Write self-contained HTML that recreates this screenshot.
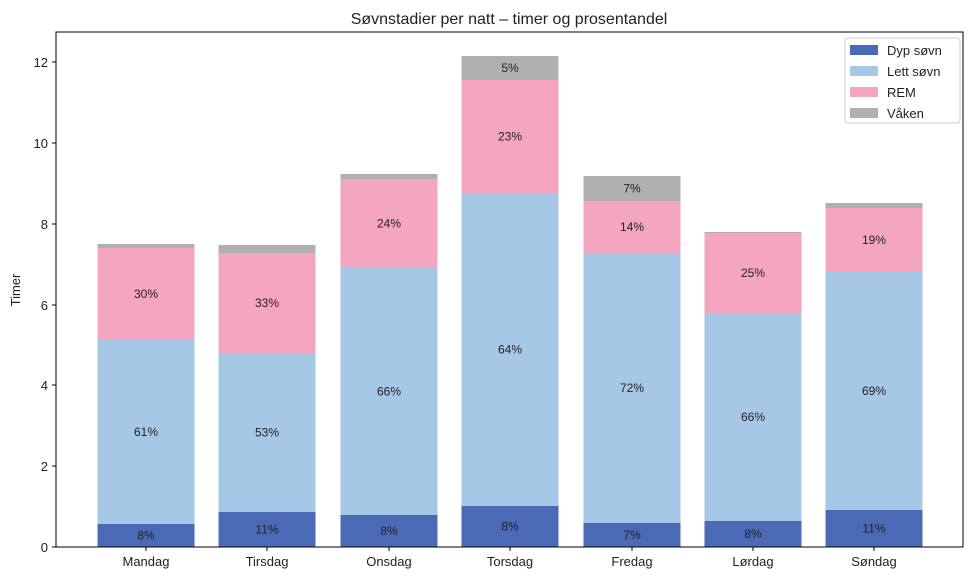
<!DOCTYPE html>
<html><head><meta charset="utf-8"><style>
body{margin:0;background:#fff}
text{font-family:"Liberation Sans","DejaVu Sans",sans-serif;fill:#222}
</style></head><body>
<svg width="973" height="580" viewBox="0 0 973 580" xmlns="http://www.w3.org/2000/svg">
<rect width="973" height="580" fill="#fff"/>
<text x="509" y="24" font-size="16" text-anchor="middle">Søvnstadier per natt – timer og prosentandel</text>
<g id="bars"></g>
<rect x="56" y="32" width="907" height="515" fill="none" stroke="#000" stroke-width="1"/>
<g font-size="13">
<g stroke="#000"><line x1="52" x2="56" y1="547" y2="547"/><line x1="52" x2="56" y1="466" y2="466"/><line x1="52" x2="56" y1="385" y2="385"/><line x1="52" x2="56" y1="305" y2="305"/><line x1="52" x2="56" y1="224" y2="224"/><line x1="52" x2="56" y1="143" y2="143"/><line x1="52" x2="56" y1="62" y2="62"/></g>
<text x="48" y="552" text-anchor="end">0</text><text x="48" y="471" text-anchor="end">2</text><text x="48" y="390" text-anchor="end">4</text><text x="48" y="310" text-anchor="end">6</text><text x="48" y="229" text-anchor="end">8</text><text x="48" y="148" text-anchor="end">10</text><text x="48" y="67" text-anchor="end">12</text>
<text transform="translate(20,290) rotate(-90)" text-anchor="middle">Timer</text>
</g>
<g id="xl" font-size="13" text-anchor="middle"></g>
<g>
<rect x="845" y="38" width="115" height="85" fill="#fff" stroke="#ccc" rx="3"/>
<rect x="850" y="45" width="28" height="10" fill="#4a6ab6"/><text x="887" y="55" font-size="13">Dyp søvn</text>
<rect x="850" y="66" width="28" height="10" fill="#a7c7e7"/><text x="887" y="76" font-size="13">Lett søvn</text>
<rect x="850" y="87" width="28" height="10" fill="#f4a6c0"/><text x="887" y="97" font-size="13">REM</text>
<rect x="850" y="108" width="28" height="10" fill="#b0b0b0"/><text x="887" y="118" font-size="13">Våken</text>
</g>
<script>
var d=[["Mandag",146,524,340,248,244,["8%","61%","30%",""]],
["Tirsdag",267,512,353,253,245,["11%","53%","33%",""]],
["Onsdag",389,515,268,179,174,["8%","66%","24%",""]],
["Torsdag",510,506,193,80,56,["8%","64%","23%","5%"]],
["Fredag",632,523,253,201,176,["7%","72%","14%","7%"]],
["Lørdag",753,521,313,233,232,["8%","66%","25%",""]],
["Søndag",874,510,272,208,203,["11%","69%","19%",""]]];
var c=["#4a6ab6","#a7c7e7","#f4a6c0","#b0b0b0"],ns="http://www.w3.org/2000/svg";
var g=document.getElementById("bars"),xl=document.getElementById("xl");
d.forEach(function(b){var ys=[547,b[2],b[3],b[4],b[5]];
for(var i=0;i<4;i++){var r=document.createElementNS(ns,"rect");r.setAttribute("x",b[1]-48.5);r.setAttribute("width",97);r.setAttribute("y",ys[i+1]);r.setAttribute("height",ys[i]-ys[i+1]);r.setAttribute("fill",c[i]);g.appendChild(r);
if(b[6][i]){var t=document.createElementNS(ns,"text");t.setAttribute("x",b[1]);t.setAttribute("y",(ys[i]+ys[i+1])/2+4);t.setAttribute("font-size","12");t.setAttribute("text-anchor","middle");t.textContent=b[6][i];g.appendChild(t);}}
var l=document.createElementNS(ns,"line");l.setAttribute("x1",b[1]);l.setAttribute("x2",b[1]);l.setAttribute("y1",547);l.setAttribute("y2",551);l.setAttribute("stroke","#000");xl.appendChild(l);
var t2=document.createElementNS(ns,"text");t2.setAttribute("x",b[1]);t2.setAttribute("y",566);t2.textContent=b[0];xl.appendChild(t2);});
</script>
</svg>
</body></html>
